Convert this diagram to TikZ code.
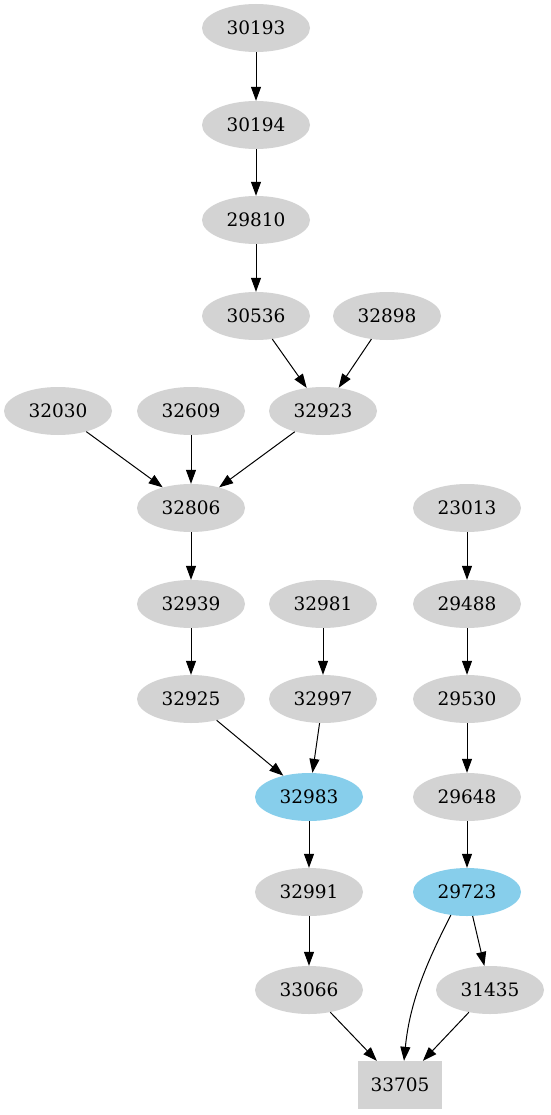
\documentclass[tikz,border=0pt]{standalone}
\usepackage{fontspec}
\setmainfont{DejaVu Serif}
\usetikzlibrary{shapes.geometric,arrows.meta}
\definecolor{grayfill}{HTML}{D3D3D3}
\definecolor{bluefill}{HTML}{87CEEB}
\tikzset{
  gnode/.style={ellipse,fill=grayfill,minimum width=108pt,minimum height=48pt,inner sep=0pt,font=\fontsize{18.5}{20}\selectfont},
  bnode/.style={gnode,fill=bluefill},
  boxnode/.style={rectangle,fill=grayfill,minimum width=84pt,minimum height=48pt,inner sep=0pt,font=\fontsize{18.5}{20}\selectfont},
  arr/.style={draw=black,line width=1pt,-{Triangle[length=14pt,width=10pt]}}
}
\begin{document}
\begin{tikzpicture}[x=1pt,y=-1pt]
\useasboundingbox (0,0) rectangle (550,1115);
\node[gnode] (n30193) at (256,28) {30193};
\node[gnode] (n30194) at (256,125) {30194};
\node[gnode] (n29810) at (256,220) {29810};
\node[gnode] (n30536) at (256,316) {30536};
\node[gnode] (n32898) at (387,316) {32898};
\node[gnode] (n32030) at (58,411) {32030};
\node[gnode] (n32609) at (191,411) {32609};
\node[gnode] (n32923) at (323,411) {32923};
\node[gnode] (n32806) at (191,508) {32806};
\node[gnode] (n23013) at (467,508) {23013};
\node[gnode] (n32939) at (191,604) {32939};
\node[gnode] (n32981) at (323,604) {32981};
\node[gnode] (n29488) at (467,604) {29488};
\node[gnode] (n32925) at (191,699) {32925};
\node[gnode] (n32997) at (323,699) {32997};
\node[gnode] (n29530) at (467,699) {29530};
\node[bnode] (n32983) at (309,797) {32983};
\node[gnode] (n29648) at (467,797) {29648};
\node[gnode] (n32991) at (309,892) {32991};
\node[bnode] (n29723) at (467,892) {29723};
\node[gnode] (n33066) at (309,990) {33066};
\node[gnode] (n31435) at (490,990) {31435};
\node[boxnode] (n33705) at (400,1085) {33705};
\draw[arr] (n30193) -- (n30194);
\draw[arr] (n30194) -- (n29810);
\draw[arr] (n29810) -- (n30536);
\draw[arr] (n30536) -- (n32923);
\draw[arr] (n32898) -- (n32923);
\draw[arr] (n32030) -- (n32806);
\draw[arr] (n32609) -- (n32806);
\draw[arr] (n32923) -- (n32806);
\draw[arr] (n32806) -- (n32939);
\draw[arr] (n32939) -- (n32925);
\draw[arr] (n32981) -- (n32997);
\draw[arr] (n32925) -- (n32983);
\draw[arr] (n32997) -- (n32983);
\draw[arr] (n32983) -- (n32991);
\draw[arr] (n32991) -- (n33066);
\draw[arr] (n23013) -- (n29488);
\draw[arr] (n29488) -- (n29530);
\draw[arr] (n29530) -- (n29648);
\draw[arr] (n29648) -- (n29723);
\draw[arr] (n29723) -- (n31435);
\draw[arr] (n29723.235) .. controls (428,960) and (410,1000) .. ([xshift=4pt]n33705.north);
\draw[arr] (n33066) -- (n33705);
\draw[arr] (n31435) -- (n33705);
\end{tikzpicture}
\end{document}
